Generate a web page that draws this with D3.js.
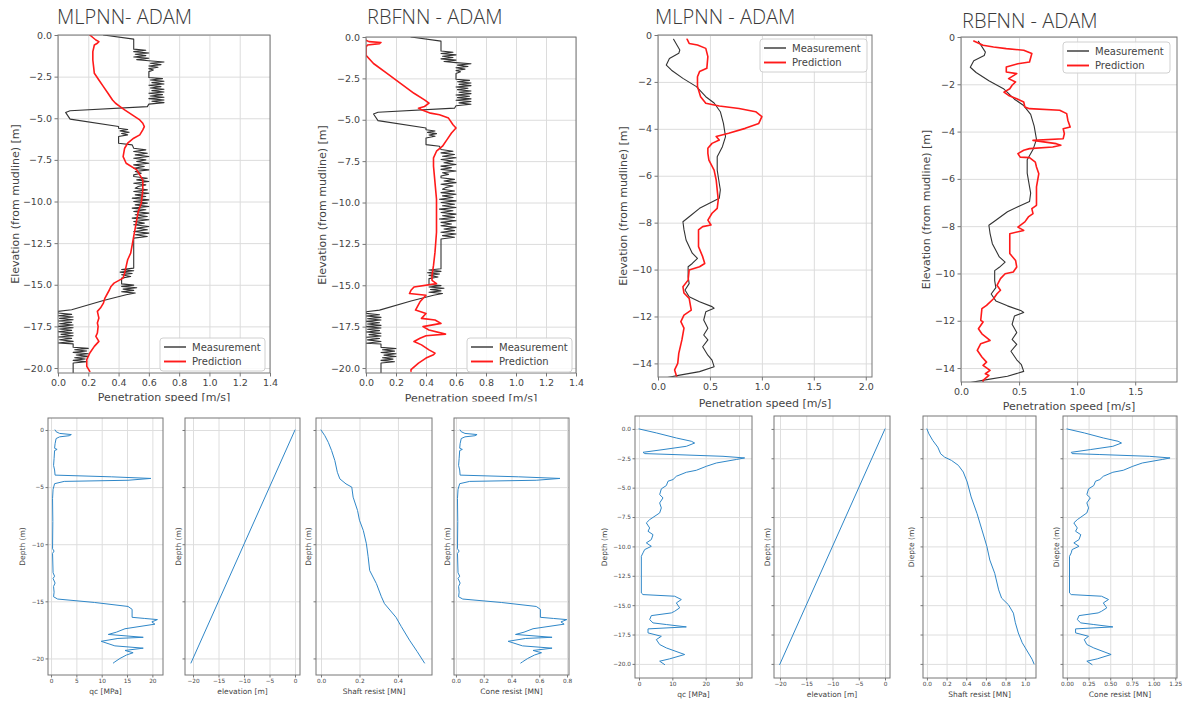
<!DOCTYPE html>
<html><head><meta charset="utf-8">
<script src="https://cdn.jsdelivr.net/npm/d3@7"></script>
<style>body{margin:0;background:#fff}</style>
</head><body>
<script>
// ===== DATA (elevation/depth, value) =====
const measLeft = [[0,0.30],[-0.25,0.50],[-0.85,0.50],[-0.92,0.58],[-1.0,0.50],[-1.08,0.60],[-1.16,0.51],[-1.24,0.58],[-1.32,0.50],[-1.40,0.60],[-1.48,0.52],[-1.55,0.60],[-1.62,0.70],[-1.70,0.61],[-1.78,0.68],[-1.86,0.60],[-1.94,0.66],[-2.02,0.60],[-2.1,0.63],[-2.2,0.60],[-2.55,0.60],[-2.62,0.69],[-2.70,0.61],[-2.78,0.70],[-2.86,0.62],[-2.94,0.70],[-3.02,0.60],[-3.10,0.68],[-3.18,0.61],[-3.26,0.70],[-3.34,0.62],[-3.42,0.70],[-3.50,0.60],[-3.58,0.69],[-3.66,0.61],[-3.74,0.70],[-3.82,0.60],[-3.90,0.70],[-3.98,0.62],[-4.06,0.70],[-4.15,0.60],[-4.30,0.59],[-4.55,0.08],[-4.65,0.05],[-5.05,0.08],[-5.5,0.40],[-5.6,0.40],[-5.68,0.46],[-5.76,0.41],[-5.84,0.47],[-5.92,0.42],[-6.0,0.46],[-6.1,0.40],[-6.5,0.40],[-6.6,0.49],[-6.8,0.50],[-6.9,0.58],[-7.0,0.50],[-7.1,0.59],[-7.2,0.51],[-7.3,0.60],[-7.4,0.50],[-7.5,0.58],[-7.6,0.52],[-7.7,0.60],[-7.8,0.50],[-7.9,0.57],[-8.0,0.50],[-8.1,0.60],[-8.2,0.51],[-8.3,0.55],[-8.4,0.50],[-8.5,0.50],[-8.6,0.59],[-8.7,0.52],[-8.8,0.60],[-8.9,0.50],[-9.0,0.58],[-9.1,0.53],[-9.2,0.51],[-9.3,0.59],[-9.4,0.50],[-9.5,0.60],[-9.6,0.51],[-9.7,0.58],[-9.8,0.49],[-9.9,0.60],[-10.0,0.50],[-10.1,0.59],[-10.2,0.51],[-10.3,0.60],[-10.4,0.49],[-10.5,0.58],[-10.6,0.50],[-10.7,0.60],[-10.8,0.51],[-10.9,0.59],[-11.0,0.49],[-11.1,0.60],[-11.2,0.50],[-11.3,0.57],[-11.4,0.50],[-11.5,0.60],[-11.6,0.52],[-11.7,0.59],[-11.8,0.50],[-11.9,0.60],[-12.0,0.51],[-12.1,0.59],[-12.2,0.50],[-14.0,0.50],[-14.08,0.42],[-14.16,0.50],[-14.24,0.41],[-14.32,0.49],[-14.4,0.42],[-14.5,0.48],[-14.6,0.42],[-14.95,0.42],[-15.02,0.50],[-15.1,0.42],[-15.18,0.52],[-15.26,0.43],[-15.34,0.50],[-15.42,0.42],[-15.5,0.51],[-15.6,0.45],[-15.95,0.30],[-16.5,0.09],[-16.6,0.0],[-16.7,0.0],[-16.78,0.09],[-16.86,0.0],[-16.94,0.10],[-17.02,0.01],[-17.1,0.10],[-17.18,0.0],[-17.26,0.09],[-17.34,0.01],[-17.42,0.10],[-17.5,0.0],[-17.58,0.10],[-17.66,0.01],[-17.74,0.09],[-17.82,0.0],[-17.9,0.10],[-17.98,0.02],[-18.06,0.10],[-18.14,0.0],[-18.22,0.09],[-18.3,0.01],[-18.4,0.10],[-18.5,0.0],[-18.55,0.10],[-18.75,0.10],[-18.82,0.20],[-18.9,0.11],[-18.98,0.19],[-19.06,0.10],[-19.14,0.20],[-19.22,0.12],[-19.3,0.20],[-19.38,0.11],[-19.46,0.18],[-19.54,0.10],[-19.62,0.19],[-19.7,0.10],[-20.4,0.10]];
const predMlpLeft = [[0,0.21],[-0.15,0.23],[-0.3,0.25],[-0.4,0.27],[-0.5,0.26],[-0.6,0.24],[-1.0,0.23],[-1.5,0.23],[-1.9,0.235],[-2.3,0.24],[-2.7,0.27],[-3.1,0.30],[-3.5,0.33],[-3.9,0.36],[-4.1,0.38],[-4.3,0.41],[-4.5,0.44],[-4.8,0.49],[-5.1,0.54],[-5.3,0.56],[-5.5,0.57],[-5.7,0.56],[-6.0,0.54],[-6.2,0.50],[-6.5,0.46],[-6.8,0.44],[-7.3,0.43],[-7.7,0.45],[-8.1,0.52],[-8.4,0.54],[-8.7,0.56],[-9.3,0.56],[-10.1,0.55],[-10.6,0.53],[-11.1,0.52],[-11.6,0.51],[-12.1,0.50],[-12.6,0.49],[-13.1,0.48],[-13.5,0.46],[-13.9,0.45],[-14.3,0.44],[-14.6,0.43],[-14.75,0.40],[-14.9,0.37],[-15.1,0.35],[-15.3,0.34],[-15.8,0.31],[-16.1,0.30],[-16.4,0.28],[-16.6,0.26],[-17.0,0.27],[-17.3,0.26],[-17.5,0.265],[-17.9,0.26],[-18.1,0.25],[-18.4,0.27],[-18.55,0.255],[-18.7,0.24],[-19.1,0.21],[-19.5,0.19],[-19.9,0.19],[-20.2,0.21]];
const predRbfLeft = [[-0.2,0.0],[-0.28,0.02],[-0.33,0.10],[-0.4,0.09],[-0.48,0.01],[-0.6,0.0],[-1.1,0.0],[-1.6,0.05],[-2.2,0.14],[-2.8,0.23],[-3.4,0.32],[-3.8,0.39],[-4.0,0.42],[-4.2,0.39],[-4.3,0.35],[-4.4,0.37],[-4.6,0.43],[-4.7,0.49],[-4.9,0.55],[-5.3,0.58],[-5.5,0.60],[-5.8,0.57],[-6.2,0.54],[-6.6,0.51],[-6.9,0.47],[-7.3,0.45],[-7.8,0.45],[-8.8,0.46],[-9.8,0.47],[-10.8,0.47],[-11.8,0.47],[-13.0,0.46],[-13.8,0.45],[-14.4,0.44],[-14.7,0.44],[-14.9,0.47],[-15.1,0.32],[-15.3,0.30],[-15.5,0.29],[-15.6,0.40],[-16.0,0.36],[-16.5,0.33],[-16.7,0.40],[-17.0,0.37],[-17.1,0.46],[-17.3,0.50],[-17.5,0.38],[-17.7,0.42],[-17.95,0.53],[-18.05,0.40],[-18.2,0.36],[-18.4,0.32],[-18.6,0.37],[-18.9,0.42],[-19.1,0.46],[-19.2,0.45],[-19.4,0.40],[-19.7,0.35],[-20.1,0.30],[-20.2,0.30]];
const measRight = [[-0.18,0.15],[-0.64,0.21],[-0.78,0.20],[-1.0,0.11],[-1.28,0.08],[-1.5,0.13],[-1.85,0.24],[-2.2,0.37],[-2.63,0.46],[-2.9,0.54],[-3.27,0.60],[-3.77,0.63],[-4.33,0.65],[-4.76,0.62],[-5.19,0.57],[-5.76,0.57],[-6.33,0.59],[-6.6,0.60],[-6.96,0.59],[-7.18,0.49],[-7.39,0.40],[-7.75,0.30],[-7.96,0.24],[-8.3,0.25],[-8.74,0.27],[-9.3,0.33],[-9.52,0.38],[-9.74,0.33],[-9.88,0.29],[-10.3,0.29],[-10.6,0.30],[-10.87,0.26],[-11.16,0.30],[-11.37,0.40],[-11.58,0.52],[-11.65,0.54],[-11.8,0.46],[-12.15,0.44],[-12.5,0.48],[-12.79,0.44],[-13.0,0.48],[-13.29,0.43],[-13.65,0.48],[-13.86,0.52],[-14.14,0.54],[-14.35,0.40],[-14.5,0.21],[-14.64,0.05]];
const predMlpRight = [[-0.18,0.28],[-0.36,0.30],[-0.43,0.38],[-0.57,0.46],[-0.92,0.48],[-1.42,0.47],[-1.56,0.40],[-1.78,0.38],[-2.2,0.38],[-2.63,0.41],[-2.91,0.46],[-3.03,0.59],[-3.13,0.78],[-3.27,0.94],[-3.48,1.0],[-3.77,0.97],[-3.98,0.84],[-4.19,0.68],[-4.33,0.56],[-4.48,0.59],[-4.62,0.52],[-4.83,0.48],[-5.05,0.48],[-5.33,0.49],[-5.76,0.54],[-6.18,0.56],[-6.6,0.57],[-7.03,0.58],[-7.39,0.57],[-7.6,0.52],[-7.89,0.48],[-8.1,0.51],[-8.17,0.43],[-8.31,0.39],[-9.02,0.39],[-9.45,0.43],[-9.74,0.45],[-9.88,0.40],[-10.02,0.30],[-10.45,0.29],[-10.73,0.24],[-11.0,0.25],[-11.23,0.30],[-11.73,0.32],[-11.94,0.25],[-12.22,0.22],[-12.5,0.25],[-13.0,0.23],[-13.57,0.20],[-14.0,0.19],[-14.28,0.16],[-14.57,0.18]];
const predRbfRight = [[-0.17,0.11],[-0.35,0.19],[-0.42,0.28],[-0.49,0.39],[-0.56,0.54],[-0.70,0.61],[-1.06,0.59],[-1.13,0.49],[-1.27,0.39],[-1.48,0.39],[-1.55,0.48],[-1.76,0.41],[-1.9,0.47],[-2.04,0.44],[-2.19,0.42],[-2.33,0.37],[-2.47,0.41],[-2.61,0.48],[-2.75,0.54],[-2.96,0.55],[-3.03,0.59],[-3.1,0.85],[-3.24,0.91],[-3.52,0.92],[-3.81,0.94],[-3.88,0.88],[-4.09,0.89],[-4.3,0.88],[-4.37,0.62],[-4.51,0.82],[-4.58,0.86],[-4.65,0.79],[-4.72,0.59],[-4.79,0.54],[-4.93,0.49],[-5.08,0.51],[-5.1,0.59],[-5.29,0.64],[-5.5,0.65],[-5.78,0.67],[-6.34,0.65],[-6.9,0.65],[-7.12,0.65],[-7.26,0.61],[-7.47,0.62],[-7.61,0.58],[-7.82,0.55],[-8.04,0.49],[-8.18,0.54],[-8.32,0.42],[-9.16,0.42],[-9.45,0.47],[-9.73,0.48],[-9.94,0.45],[-10.01,0.38],[-10.22,0.34],[-10.5,0.31],[-10.71,0.34],[-10.86,0.31],[-11.07,0.28],[-11.35,0.22],[-11.49,0.18],[-11.98,0.17],[-12.05,0.19],[-12.34,0.15],[-12.55,0.18],[-12.83,0.25],[-12.97,0.17],[-13.25,0.14],[-13.53,0.18],[-13.75,0.22],[-13.89,0.19],[-14.1,0.25],[-14.24,0.21],[-14.31,0.24],[-14.52,0.19],[-14.6,0.19]];

const qcLeft = [[0.0,0.8],[-0.15,1.0],[-0.3,1.7],[-0.4,4.0],[-0.5,3.6],[-0.6,1.7],[-0.75,1.0],[-1.2,0.8],[-1.6,0.7],[-1.7,1.2],[-1.8,0.7],[-2.5,0.6],[-3.1,0.5],[-3.5,0.7],[-3.95,0.8],[-4.1,11.9],[-4.24,19.7],[-4.4,15.2],[-4.5,2.6],[-4.7,0.7],[-5.2,0.4],[-6.0,0.3],[-8.0,0.35],[-10.4,0.3],[-10.6,0.6],[-10.8,0.3],[-12.5,0.4],[-12.8,0.7],[-13.0,0.4],[-13.4,0.8],[-13.7,0.5],[-14.2,0.6],[-14.6,0.5],[-14.8,1.3],[-15.1,8.6],[-15.45,15.2],[-15.7,16.0],[-16.4,16.0],[-16.5,18.5],[-16.6,21.0],[-16.8,19.9],[-17.0,20.5],[-17.4,14.6],[-17.7,12.9],[-17.9,11.3],[-18.15,18.2],[-18.25,13.2],[-18.5,9.9],[-18.9,12.6],[-19.1,18.2],[-19.3,14.6],[-19.5,16.2],[-19.7,14.9],[-20.0,13.6],[-20.3,12.6],[-20.4,12.3]];
const coneLeft = [[0.0,0.030],[-0.15,0.038],[-0.3,0.065],[-0.4,0.152],[-0.5,0.137],[-0.6,0.065],[-0.75,0.038],[-1.2,0.030],[-1.6,0.027],[-1.7,0.046],[-1.8,0.027],[-2.5,0.023],[-3.1,0.019],[-3.5,0.027],[-3.95,0.030],[-4.1,0.452],[-4.24,0.749],[-4.4,0.578],[-4.5,0.099],[-4.7,0.027],[-5.2,0.015],[-6.0,0.011],[-8.0,0.013],[-10.4,0.011],[-10.6,0.023],[-10.8,0.011],[-12.5,0.015],[-12.8,0.027],[-13.0,0.015],[-13.4,0.030],[-13.7,0.019],[-14.2,0.023],[-14.6,0.019],[-14.8,0.049],[-15.1,0.327],[-15.45,0.578],[-15.7,0.608],[-16.4,0.608],[-16.5,0.703],[-16.6,0.798],[-16.8,0.756],[-17.0,0.779],[-17.4,0.555],[-17.7,0.490],[-17.9,0.429],[-18.15,0.692],[-18.25,0.502],[-18.5,0.376],[-18.9,0.479],[-19.1,0.692],[-19.3,0.555],[-19.5,0.616],[-19.7,0.566],[-20.0,0.517],[-20.3,0.479],[-20.4,0.467]];
const shaftLeft = [[0,0],[-0.5,0.02],[-1.08,0.038],[-1.8,0.055],[-2.68,0.072],[-3.7,0.085],[-4.28,0.098],[-4.72,0.13],[-5.0,0.16],[-5.88,0.167],[-7.05,0.19],[-7.9,0.20],[-8.8,0.22],[-9.96,0.236],[-11.1,0.245],[-12.3,0.253],[-13.45,0.288],[-14.6,0.314],[-15.2,0.33],[-16.4,0.39],[-17.2,0.417],[-18.4,0.46],[-19.4,0.50],[-20.4,0.538]];
const elevLeft = [[0,0],[-20.4,-20.4]];

const qcRight = [[0,0],[-0.34,5.2],[-0.77,11.2],[-1.05,15.7],[-1.2,16.7],[-1.48,14.2],[-1.76,7.2],[-1.99,1.2],[-2.1,1.7],[-2.18,10.2],[-2.33,25.2],[-2.47,31.7],[-2.6,29.2],[-2.9,23.2],[-3.18,20.2],[-3.52,17.2],[-3.69,14.2],[-4.03,11.2],[-4.31,10.2],[-4.45,8.7],[-4.82,8.2],[-5.1,6.7],[-5.59,6.2],[-5.87,7.2],[-6.3,6.2],[-6.72,6.7],[-7.15,6.2],[-7.72,3.2],[-8.0,2.2],[-8.43,3.2],[-8.71,2.7],[-9.0,4.2],[-9.42,3.7],[-9.7,2.2],[-9.99,3.7],[-10.27,1.7],[-10.55,1.2],[-10.84,0.7],[-13.96,0.7],[-14.1,1.2],[-14.24,10.7],[-14.52,12.7],[-14.81,11.2],[-15.23,12.2],[-15.52,10.7],[-15.66,9.7],[-15.89,3.7],[-16.23,3.2],[-16.51,4.2],[-16.65,8.2],[-16.85,14.2],[-17.02,2.7],[-17.36,2.7],[-17.65,6.7],[-17.93,5.2],[-18.35,6.2],[-18.64,8.2],[-19.2,13.7],[-19.57,9.2],[-19.77,6.2],[-20.06,7.7]];
const coneRight = [[0,0],[-0.34,0.20],[-0.77,0.42],[-1.05,0.59],[-1.2,0.63],[-1.48,0.53],[-1.76,0.27],[-1.99,0.05],[-2.1,0.06],[-2.18,0.38],[-2.33,0.95],[-2.47,1.19],[-2.6,1.10],[-2.9,0.87],[-3.18,0.76],[-3.52,0.65],[-3.69,0.53],[-4.03,0.42],[-4.31,0.38],[-4.45,0.33],[-4.82,0.31],[-5.1,0.25],[-5.59,0.23],[-5.87,0.27],[-6.3,0.23],[-6.72,0.25],[-7.15,0.23],[-7.72,0.12],[-8.0,0.08],[-8.43,0.12],[-8.71,0.10],[-9.0,0.16],[-9.42,0.14],[-9.7,0.08],[-9.99,0.14],[-10.27,0.06],[-10.55,0.05],[-10.84,0.03],[-13.96,0.03],[-14.1,0.05],[-14.24,0.40],[-14.52,0.48],[-14.81,0.42],[-15.23,0.46],[-15.52,0.40],[-15.66,0.36],[-15.89,0.14],[-16.23,0.12],[-16.51,0.16],[-16.65,0.31],[-16.85,0.53],[-17.02,0.10],[-17.36,0.10],[-17.65,0.25],[-17.93,0.20],[-18.35,0.23],[-18.64,0.31],[-19.2,0.51],[-19.57,0.35],[-19.77,0.23],[-20.06,0.29]];
const shaftRight = [[0,0],[-0.42,0.02],[-0.99,0.06],[-1.55,0.11],[-2.12,0.14],[-2.4,0.18],[-2.68,0.25],[-3.1,0.32],[-3.67,0.37],[-4.52,0.41],[-5.79,0.45],[-7.2,0.51],[-8.6,0.56],[-10.0,0.61],[-11.16,0.64],[-12.29,0.69],[-13.7,0.73],[-14.4,0.76],[-14.97,0.83],[-15.68,0.88],[-16.5,0.90],[-17.37,0.93],[-18.2,0.97],[-18.9,1.02],[-19.6,1.07],[-20.0,1.09]];
const elevRight = [[0,0],[-20.06,-20.06]];

// tick values
const ticksSpeedLeft = [0,0.2,0.4,0.6,0.8,1.0,1.2,1.4];
const ticksElevLeft = [0,-2.5,-5,-7.5,-10,-12.5,-15,-17.5,-20];
const ticksSpeedR1 = [0,0.5,1.0,1.5,2.0];
const ticksSpeedR2 = [0,0.5,1.0,1.5];
const ticksElevRight = [0,-2,-4,-6,-8,-10,-12,-14];
const ticksDepthBL = [0,-5,-10,-15,-20];
const ticksDepthBR = [0,-2.5,-5,-7.5,-10,-12.5,-15,-17.5,-20];
const ticksQcL = [0,5,10,15,20], ticksElevB = [-20,-15,-10,-5,0], ticksShaftL = [0,0.2,0.4], ticksConeL = [0,0.2,0.4,0.6,0.8];
const ticksQcR = [0,10,20,30], ticksShaftR = [0,0.2,0.4,0.6,0.8,1.0], ticksConeR = [0,0.25,0.5,0.75,1.0,1.25];

// ===== DRAWING =====
const FONT = "'DejaVu Sans', sans-serif";
const svg = d3.select('body').append('svg').attr('width',1188).attr('height',702);
svg.append('rect').attr('width',1188).attr('height',702).attr('fill','#fff');
const defs = svg.append('defs');
let cid = 0;

function panel(p){
  const x = d3.scaleLinear().domain(p.xd).range([p.l,p.r]);
  const y = d3.scaleLinear().domain(p.yd).range([p.b,p.t]);
  const W = p.r-p.l, H = p.b-p.t;
  const g = svg.append('g');
  // grid
  g.append('g').attr('transform',`translate(0,${p.b})`)
    .call(d3.axisBottom(x).tickValues(p.xt).tickSize(-H).tickFormat(''))
    .call(s=>{s.select('.domain').remove(); s.selectAll('line').attr('stroke',p.grid).attr('stroke-width',1);});
  g.append('g').attr('transform',`translate(${p.l},0)`)
    .call(d3.axisLeft(y).tickValues(p.yt).tickSize(-W).tickFormat(''))
    .call(s=>{s.select('.domain').remove(); s.selectAll('line').attr('stroke',p.grid).attr('stroke-width',1);});
  // series
  const id = 'clip'+(cid++);
  defs.append('clipPath').attr('id',id).append('rect').attr('x',p.l).attr('y',p.t).attr('width',W).attr('height',H);
  const lg = g.append('g').attr('clip-path',`url(#${id})`);
  p.series.forEach(s=>{
    lg.append('path').datum(s.data)
      .attr('d', d3.line().x(d=>x(d[1])).y(d=>y(d[0])))
      .attr('fill','none').attr('stroke',s.color).attr('stroke-width',s.w)
      .attr('stroke-linejoin','round').attr('stroke-linecap','round');
  });
  // frame
  g.append('rect').attr('x',p.l).attr('y',p.t).attr('width',W).attr('height',H)
    .attr('fill','none').attr('stroke',p.frame).attr('stroke-width',1);
  // ticks
  const styleAxis = s=>{
    s.select('.domain').remove();
    s.attr('font-family',FONT).attr('font-size',p.fs).attr('color','#444');
    s.selectAll('line').attr('stroke',p.frame);
  };
  g.append('g').attr('transform',`translate(0,${p.b})`)
    .call(d3.axisBottom(x).tickValues(p.xt).tickFormat(d3.format(p.fx)).tickSize(p.tl).tickPadding(p.tp))
    .call(styleAxis);
  g.append('g').attr('transform',`translate(${p.l},0)`)
    .call(d3.axisLeft(y).tickValues(p.yt).tickFormat(p.fy ? d3.format(p.fy) : ()=>'').tickSize(p.tl).tickPadding(p.tp))
    .call(styleAxis);
  // labels
  if (p.xlabel) g.append('text').attr('x',p.xlx ?? (p.l+p.r)/2).attr('y',p.xly)
    .attr('text-anchor','middle').attr('dominant-baseline','central')
    .attr('font-family',FONT).attr('font-size',p.lfs).attr('fill','#444').text(p.xlabel);
  if (p.ylabel) g.append('text').attr('transform',`translate(${p.ylx},${(p.t+p.b)/2}) rotate(-90)`)
    .attr('text-anchor','middle').attr('dominant-baseline','central')
    .attr('font-family',FONT).attr('font-size',p.lfs).attr('fill','#444').text(p.ylabel);
  if (p.title) g.append('text').attr('x',p.title.x).attr('y',p.title.y)
    .attr('font-family',"'Open Sans', Lato, sans-serif").attr('font-weight',300)
    .attr('font-size',20).attr('fill','#3a3a3a').text(p.title.text);
  if (p.legend){
    const L = p.legend;
    const lgd = g.append('g');
    lgd.append('rect').attr('x',L.x).attr('y',L.y).attr('width',L.w).attr('height',L.h)
      .attr('rx',3).attr('fill','#fff').attr('fill-opacity',0.85).attr('stroke','#d0d0d0');
    p.series.forEach((s,i)=>{
      const yy = L.y + 9 + i*14.5;
      lgd.append('line').attr('x1',L.x+4).attr('x2',L.x+26).attr('y1',yy).attr('y2',yy)
        .attr('stroke',s.color).attr('stroke-width',s.w+0.3);
      lgd.append('text').attr('x',L.x+32).attr('y',yy).attr('dominant-baseline','central')
        .attr('font-family',FONT).attr('font-size',10).attr('fill','#444').text(s.name);
    });
  }
  return g;
}

const BLACK = '#333', RED = '#ff1a1a';
const topCommon = {grid:'#dcdcdc', frame:'#777', fs:9.5, lfs:11, tl:3.5, tp:2.5,
  xlabel:'Penetration speed [m/s]', ylabel:'Elevation (from mudline) [m]'};

panel({...topCommon, l:58, r:270, t:35, b:373, xd:[0,1.4], yd:[-20.3,0],
  xt:ticksSpeedLeft, yt:ticksElevLeft, fx:'.1f', fy:'.1f', xly:397, ylx:15,
  title:{text:'MLPNN- ADAM', x:57, y:24},
  series:[{name:'Measurement',data:measLeft,color:BLACK,w:1.1},{name:'Prediction',data:predMlpLeft,color:RED,w:1.6}],
  legend:{x:160,y:338,w:105,h:33}});
panel({...topCommon, l:366, r:576, t:37, b:373, xd:[0,1.4], yd:[-20.3,0],
  xt:ticksSpeedLeft, yt:ticksElevLeft, fx:'.1f', fy:'.1f', xly:398, ylx:322,
  title:{text:'RBFNN - ADAM', x:367, y:24},
  series:[{name:'Measurement',data:measLeft,color:BLACK,w:1.1},{name:'Prediction',data:predRbfLeft,color:RED,w:1.6}],
  legend:{x:467,y:338,w:105,h:34}});
// the left-hand source figure is cropped just below its x-axis labels
svg.append('rect').attr('x',0).attr('y',401.5).attr('width',590).attr('height',12).attr('fill','#fff');

panel({...topCommon, l:658, r:872, t:35, b:377, xd:[0,2.06], yd:[-14.58,0],
  xt:ticksSpeedR1, yt:ticksElevRight, fx:'.1f', fy:'d', xly:403, ylx:623,
  title:{text:'MLPNN - ADAM', x:655, y:24},
  series:[{name:'Measurement',data:measRight,color:BLACK,w:1.1},{name:'Prediction',data:predMlpRight,color:RED,w:1.6}],
  legend:{x:760,y:39,w:107,h:33}});
panel({...topCommon, l:961, r:1177, t:37, b:382, xd:[0,1.86], yd:[-14.59,0],
  xt:ticksSpeedR2, yt:ticksElevRight, fx:'.1f', fy:'d', xly:406, ylx:926,
  title:{text:'RBFNN - ADAM', x:962, y:28},
  series:[{name:'Measurement',data:measRight,color:BLACK,w:1.1},{name:'Prediction',data:predRbfRight,color:RED,w:1.6}],
  legend:{x:1063,y:42,w:107,h:31}});

// ===== bottom small multiples =====
const BLUE = '#2f87c8';
const botCommon = {grid:'#dedede', frame:'#777', fs:5.8, lfs:7.5, tl:2.5, tp:1.5};
const BL = {t:418, b:675, yd:[-21.45,1.05], yt:ticksDepthBL, xly:691};
panel({...botCommon, ...BL, l:48, r:163, xd:[-0.6,22.1], xt:ticksQcL, fx:'d', fy:'d', xlabel:'qc [MPa]', ylabel:'Depth (m)', ylx:22, series:[{data:qcLeft,color:BLUE,w:1}]});
panel({...botCommon, ...BL, l:185, r:300, xd:[-21.57,0.98], xt:ticksElevB, fx:'d', fy:null, xlabel:'elevation [m]', ylabel:'Depth (m)', ylx:178, series:[{data:elevLeft,color:BLUE,w:1}]});
panel({...botCommon, ...BL, l:316, r:432, xd:[-0.026,0.577], xt:ticksShaftL, fx:'.1f', fy:null, xlabel:'Shaft resist [MN]', ylabel:'Depth (m)', ylx:308, series:[{data:shaftLeft,color:BLUE,w:1}]});
panel({...botCommon, ...BL, l:454, r:569, xd:[-0.014,0.814], xt:ticksConeL, fx:'.1f', fy:null, xlabel:'Cone resist [MN]', ylabel:'Depth (m)', ylx:447, series:[{data:coneLeft,color:BLUE,w:1}]});

const BR = {t:416, b:678, yd:[-21.2,1.1], yt:ticksDepthBR, xly:694};
panel({...botCommon, ...BR, l:635, r:752, xd:[-1.2,33.9], xt:ticksQcR, fx:'d', fy:'.1f', xlabel:'qc [MPa]', ylabel:'Depth (m)', ylx:604, series:[{data:qcRight,color:BLUE,w:1}]});
panel({...botCommon, ...BR, l:774, r:890, xd:[-21.14,0.95], xt:ticksElevB, fx:'d', fy:null, xlabel:'elevation [m]', ylabel:'Depth (m)', ylx:767, series:[{data:elevRight,color:BLUE,w:1}]});
panel({...botCommon, ...BR, l:923, r:1036, xd:[-0.04,1.11], xt:ticksShaftR, fx:'.1f', fy:null, xlabel:'Shaft resist [MN]', ylabel:'Diepte (m)', ylx:911, series:[{data:shaftRight,color:BLUE,w:1}]});
panel({...botCommon, ...BR, l:1063, r:1177, xd:[-0.045,1.27], xt:ticksConeR, fx:'.2f', fy:null, xlabel:'Cone resist [MN]', ylabel:'Diepte (m)', ylx:1056, series:[{data:coneRight,color:BLUE,w:1}]});
</script>
</body></html>
